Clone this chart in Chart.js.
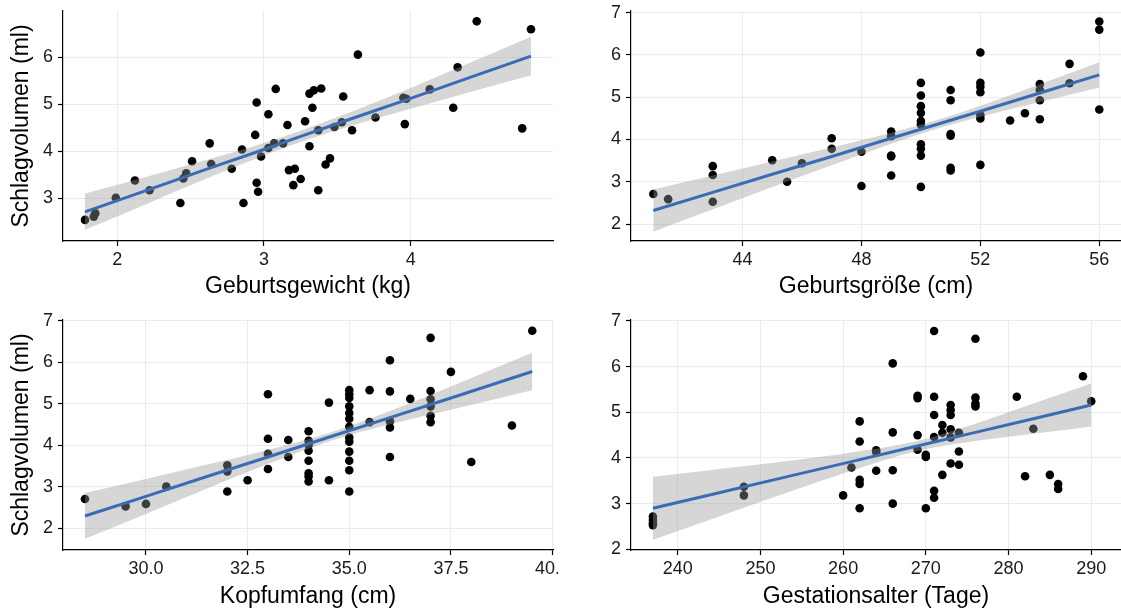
<!DOCTYPE html>
<html lang="de">
<head>
  <meta charset="UTF-8" />
  <title>Schlagvolumen</title>
  <script src="https://cdn.jsdelivr.net/npm/chart.js"></script>
  <style>
    body {
      margin: 0;
      background: #ffffff;
      font-family: "Liberation Sans", Arial, sans-serif;
    }
    #wrap {
      position: relative;
      width: 1121px;
      height: 610px;
      overflow: hidden;
    }
    .panel {
      position: absolute;
    }
  </style>
</head>
<body>
  <div id="wrap">
    <div class="panel" style="left:0;top:0;"><canvas id="c1" width="557" height="300"></canvas></div>
    <div class="panel" style="left:575px;top:0;"><canvas id="c2" width="546" height="300"></canvas></div>
    <div class="panel" style="left:0;top:305px;"><canvas id="c3" width="558" height="305"></canvas></div>
    <div class="panel" style="left:575px;top:305px;"><canvas id="c4" width="546" height="305"></canvas></div>
  </div>

  <script>
    // Geburtsgewicht (kg) vs. Schlagvolumen (ml)
    const gewichtKg = [1.78, 1.84, 1.85, 1.99, 2.12, 2.22, 2.43, 2.45, 2.47, 2.51, 2.63, 2.64, 2.78, 2.85, 2.86,
      2.94, 2.95, 2.95, 2.96, 2.98, 3.03, 3.03, 3.07, 3.08, 3.13, 3.16, 3.17, 3.21, 3.20, 3.25,
      3.28, 3.31, 3.31, 3.34, 3.33, 3.37, 3.37, 3.39, 3.42, 3.45, 3.48, 3.53, 3.54, 3.60, 3.64,
      3.76, 3.96, 3.95, 3.97, 4.13, 4.29, 4.32, 4.45, 4.76, 4.82];
    const svGewicht = [2.54, 2.61, 2.68, 3.01, 3.38, 3.17, 2.90, 3.42, 3.53, 3.79, 4.17, 3.73, 3.63, 4.04, 2.90,
      4.35, 5.04, 3.33, 3.14, 3.89, 4.07, 4.79, 4.17, 5.33, 4.17, 4.56, 3.60, 3.63, 3.28, 3.41,
      4.64, 4.11, 5.23, 5.30, 4.93, 4.45, 3.17, 5.34, 3.72, 3.85, 4.52, 4.62, 5.17, 4.45, 6.06,
      4.72, 4.58, 5.14, 5.12, 5.32, 4.93, 5.79, 6.77, 4.49, 6.60];
    const gewichtFitX = [1.78, 2.2, 2.6, 3.0, 3.25, 3.6, 4.0, 4.4, 4.82];
    const gewichtFitY = [2.71, 3.17, 3.61, 4.04, 4.32, 4.70, 5.13, 5.57, 6.03];
    const gewichtFitLo = [2.33, 2.88, 3.41, 3.91, 4.20, 4.55, 4.91, 5.26, 5.62];
    const gewichtFitHi = [3.10, 3.46, 3.81, 4.18, 4.44, 4.85, 5.35, 5.88, 6.44];

    // Geburtsgröße (cm)
    const groesseCm = [41, 41.5, 43, 43, 43, 45, 45.5, 46, 47, 47, 48, 48, 49, 49, 49, 49, 49,
      50, 50, 50, 50, 50, 50, 50, 50, 50, 50, 51, 51, 51, 51, 51, 51,
      52, 52, 52, 52, 52, 52, 52, 53, 53.5, 54, 54, 54, 54, 55, 55, 56, 56, 56];
    const svGroesse = [2.71, 2.59, 3.37, 3.16, 2.53, 3.51, 3.00, 3.44, 4.03, 3.78, 3.71, 2.90, 4.19, 4.08, 3.62, 3.60, 3.15,
      5.34, 5.04, 4.79, 4.63, 4.44, 4.35, 3.89, 3.78, 3.62, 2.88, 5.17, 4.93, 4.13, 4.09, 3.33, 3.27,
      6.06, 5.34, 5.25, 5.12, 4.58, 4.50, 3.40, 4.45, 4.62, 5.31, 5.17, 4.93, 4.48, 5.79, 5.33, 6.79, 6.60, 4.71];
    const groesseFitX = [41, 43, 45, 47, 49, 50.5, 52, 54, 56];
    const groesseFitY = [2.32, 2.75, 3.18, 3.60, 4.03, 4.35, 4.67, 5.10, 5.53];
    const groesseFitLo = [1.82, 2.35, 2.88, 3.39, 3.90, 4.25, 4.54, 4.89, 5.23];
    const groesseFitHi = [2.82, 3.15, 3.48, 3.81, 4.16, 4.45, 4.80, 5.31, 5.83];

    // Kopfumfang (cm)
    const kopfCm = [28.5, 29.5, 30, 30.5, 32, 32, 32, 32.5, 33, 33, 33, 33, 33.5, 33.5,
      34, 34, 34, 34, 34, 34, 34, 34, 34.5, 34.5,
      35, 35, 35, 35, 35, 35, 35, 35, 35, 35, 35, 35, 35, 35.5, 35.5,
      36, 36, 36, 36, 36, 36.5, 37, 37, 37, 37, 37, 37, 37.5, 38, 39, 39.5];
    const svKopf = [2.71, 2.53, 2.59, 3.01, 3.52, 3.37, 2.89, 3.16, 5.23, 4.16, 3.80, 3.43, 4.13, 3.72,
      4.34, 4.11, 4.01, 3.87, 3.63, 3.33, 3.25, 3.13, 5.03, 3.16,
      5.33, 5.23, 5.14, 4.94, 4.78, 4.64, 4.45, 4.19, 4.09, 3.85, 3.63, 3.40, 2.89, 5.33, 4.56,
      6.05, 5.30, 4.58, 4.43, 3.72, 5.12, 6.59, 5.31, 5.11, 4.94, 4.71, 4.56, 5.77, 3.60, 4.48, 6.76];
    const kopfFitX = [28.5, 30, 31.5, 33, 34.57, 36, 37.5, 39.5];
    const kopfFitY = [2.30, 2.77, 3.25, 3.72, 4.22, 4.67, 5.14, 5.78];
    const kopfFitLo = [1.75, 2.35, 2.96, 3.55, 4.12, 4.51, 4.86, 5.33];
    const kopfFitHi = [2.85, 3.19, 3.54, 3.89, 4.32, 4.83, 5.42, 6.23];

    // Gestationsalter (Tage)
    const gestTage = [237, 237, 237, 237, 248, 248, 260, 261, 262, 262, 262, 262, 262, 264, 264, 264,
      266, 266, 266, 266, 269, 269, 269, 269, 270, 270, 270, 271, 271, 271, 271, 271, 271,
      272, 272, 272, 273, 273, 273, 273, 273, 273, 274, 274, 274, 276, 276, 276, 276,
      281, 282, 283, 285, 286, 286, 289, 290];
    const svGest = [2.72, 2.64, 2.57, 2.53, 3.37, 3.18, 3.18, 3.79, 4.80, 4.36, 3.52, 3.43, 2.90, 4.17, 4.13, 3.72,
      6.07, 4.56, 3.73, 3.00, 5.36, 5.31, 4.50, 4.18, 4.07, 4.02, 2.90, 6.78, 5.34, 4.94, 4.46, 3.28, 3.13,
      4.72, 4.55, 3.63, 5.16, 5.05, 4.94, 4.63, 4.45, 3.88, 4.55, 4.14, 3.85, 6.61, 5.32, 5.19, 5.13,
      5.34, 3.60, 4.64, 3.63, 3.43, 3.32, 5.79, 5.24];
    const gestFitX = [237, 245, 253, 261, 268.7, 276, 283, 290];
    const gestFitY = [2.90, 3.24, 3.58, 3.92, 4.25, 4.56, 4.86, 5.16];
    const gestFitLo = [2.21, 2.72, 3.23, 3.72, 4.14, 4.37, 4.53, 4.69];
    const gestFitHi = [3.59, 3.76, 3.93, 4.12, 4.36, 4.75, 5.19, 5.63];

    // tick labels
    const gewichtTicks = [2, 3, 4];
    const groesseTicks = [44, 48, 52, 56];
    const kopfTicks = [30, 32.5, 35, 37.5, 40];
    const gestTicks = [240, 250, 260, 270, 280, 290];
    const svTicksTop = [3, 4, 5, 6];
    const svTicksAll = [2, 3, 4, 5, 6, 7];

    const FONT = '"Liberation Sans", Arial, Helvetica, sans-serif';
    const yTitle = 'Schlagvolumen (ml)';

    function pts(xs, ys) {
      return xs.map((x, i) => ({ x: x, y: ys[i] }));
    }

    function makePanel(id, p) {
      const ctx = document.getElementById(id).getContext('2d');
      new Chart(ctx, {
        type: 'scatter',
        data: {
          datasets: [
            {
              // regression line (drawn on top)
              data: pts(p.fitX, p.fitY),
              showLine: true,
              borderColor: '#3a6cb4',
              borderWidth: 3,
              pointRadius: 0,
              fill: false
            },
            {
              data: pts(p.fitX, p.fitHi),
              showLine: true,
              borderWidth: 0,
              borderColor: 'rgba(0,0,0,0)',
              backgroundColor: 'rgba(153,153,153,0.4)',
              pointRadius: 0,
              cubicInterpolationMode: 'monotone',
              fill: '+1'
            },
            {
              data: pts(p.fitX, p.fitLo),
              showLine: true,
              borderWidth: 0,
              borderColor: 'rgba(0,0,0,0)',
              pointRadius: 0,
              cubicInterpolationMode: 'monotone',
              fill: false
            },
            {
              data: pts(p.x, p.y),
              pointRadius: 4.3,
              pointBackgroundColor: '#000000',
              pointBorderWidth: 0,
              pointHoverRadius: 4.3
            }
          ]
        },
        options: {
          responsive: false,
          animation: false,
          events: [],
          layout: {
            autoPadding: false,
            padding: { top: p.padTop, right: p.padRight, bottom: 0, left: 0 }
          },
          plugins: {
            legend: { display: false },
            tooltip: { enabled: false }
          },
          scales: {
            x: {
              type: 'linear',
              min: p.xMin,
              max: p.xMax,
              afterBuildTicks: s => { s.ticks = p.xTicks.map(v => ({ value: v })); },
              afterFit: s => { s.height = p.xAxisH; s.paddingLeft = 0; s.paddingRight = 0; },
              grid: { color: '#ebebeb', lineWidth: 1, tickColor: '#000000', tickLength: 5, tickWidth: 1.2 },
              border: { display: true, color: '#000000', width: 1.2 },
              ticks: {
                autoSkip: false,
                maxRotation: 0,
                padding: 3,
                color: '#1a1a1a',
                font: { family: FONT, size: 18 },
                callback: v => p.xFmt(v)
              },
              title: {
                display: true,
                text: p.xTitle,
                color: '#000000',
                font: { family: FONT, size: 23 },
                padding: { top: 0, bottom: 0 }
              }
            },
            y: {
              type: 'linear',
              min: p.yMin,
              max: p.yMax,
              afterBuildTicks: s => { s.ticks = p.yTicks.map(v => ({ value: v })); },
              afterFit: s => { s.width = p.yAxisW; s.paddingTop = 0; s.paddingBottom = 0; },
              grid: { color: '#ebebeb', lineWidth: 1, tickColor: '#000000', tickLength: 5, tickWidth: 1.2 },
              border: { display: true, color: '#000000', width: 1.2 },
              ticks: {
                autoSkip: false,
                padding: 5,
                color: '#1a1a1a',
                font: { family: FONT, size: 18 },
                callback: v => String(v)
              },
              title: {
                display: p.showYTitle,
                text: yTitle,
                color: '#000000',
                font: { family: FONT, size: 23 },
                padding: { top: 8, bottom: 0 }
              }
            }
          }
        }
      });
    }

    makePanel('c1', {
      x: gewichtKg, y: svGewicht,
      fitX: gewichtFitX, fitY: gewichtFitY, fitLo: gewichtFitLo, fitHi: gewichtFitHi,
      xMin: 1.63, xMax: 4.97, yMin: 2.09, yMax: 6.99,
      xTicks: gewichtTicks, yTicks: svTicksTop, xFmt: v => String(v),
      xTitle: 'Geburtsgewicht (kg)', showYTitle: true,
      yAxisW: 63, xAxisH: 59, padTop: 11, padRight: 4
    });

    makePanel('c2', {
      x: groesseCm, y: svGroesse,
      fitX: groesseFitX, fitY: groesseFitY, fitLo: groesseFitLo, fitHi: groesseFitHi,
      xMin: 40.25, xMax: 56.73, yMin: 1.60, yMax: 7.04,
      xTicks: groesseTicks, yTicks: svTicksAll, xFmt: v => String(v),
      xTitle: 'Geburtsgröße (cm)', showYTitle: false,
      yAxisW: 56, xAxisH: 59, padTop: 11, padRight: 0
    });

    makePanel('c3', {
      x: kopfCm, y: svKopf,
      fitX: kopfFitX, fitY: kopfFitY, fitLo: kopfFitLo, fitHi: kopfFitHi,
      xMin: 27.96, xMax: 40.01, yMin: 1.48, yMax: 7.02,
      xTicks: kopfTicks, yTicks: svTicksAll, xFmt: v => v.toFixed(1),
      xTitle: 'Kopfumfang (cm)', showYTitle: true,
      yAxisW: 63, xAxisH: 60, padTop: 15, padRight: 5
    });

    makePanel('c4', {
      x: gestTage, y: svGest,
      fitX: gestFitX, fitY: gestFitY, fitLo: gestFitLo, fitHi: gestFitHi,
      xMin: 234.35, xMax: 293.6, yMin: 1.985, yMax: 7.02,
      xTicks: gestTicks, yTicks: svTicksAll, xFmt: v => String(v),
      xTitle: 'Gestationsalter (Tage)', showYTitle: false,
      yAxisW: 56, xAxisH: 60, padTop: 15, padRight: 0
    });
  </script>
</body>
</html>
